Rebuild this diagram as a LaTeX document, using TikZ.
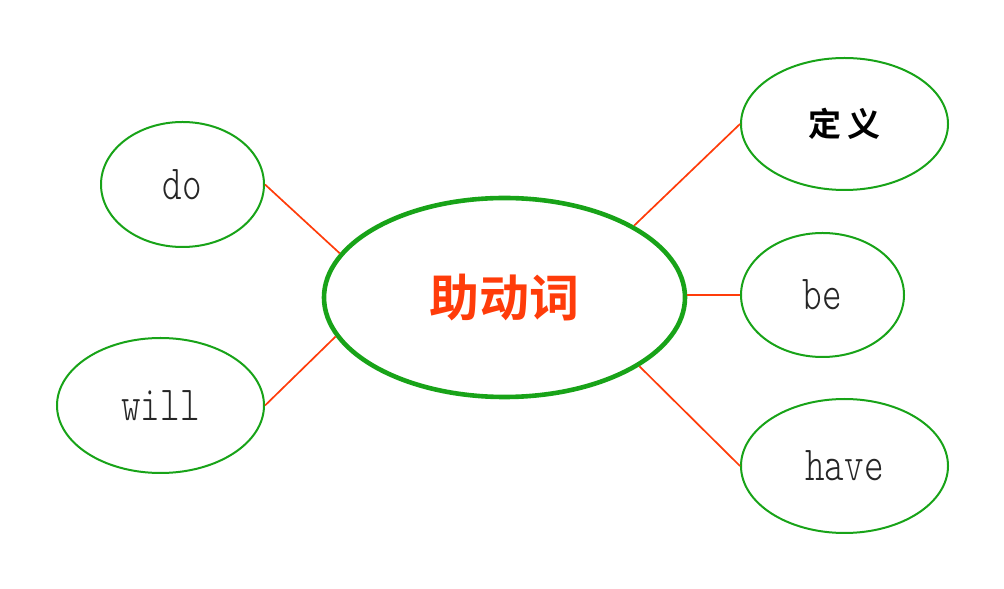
\documentclass[tikz,border=0pt]{standalone}
\usepackage{fontspec}
\usetikzlibrary{shapes.geometric}
\newfontfamily\cjkb{Noto Sans CJK SC Bold}
\newfontfamily\latfont[FakeStretch=0.76]{Latin Modern Mono Light}
\definecolor{egreen}{RGB}{24,163,24}
\definecolor{lred}{RGB}{255,60,10}
\begin{document}
\begin{tikzpicture}[x=1pt,y=1pt,
  leaf/.style={ellipse,draw=egreen,line width=2pt,inner sep=0pt,font=\latfont\fontsize{49}{49}\selectfont,text=black!85},
  hub/.style={ellipse,draw=egreen,line width=4.6pt,inner sep=0pt,font=\cjkb\fontsize{50}{50}\selectfont,text=lred},
  link/.style={draw=lred,line width=1.7pt}]
\useasboundingbox (0,0) rectangle (1004,589);
\node[hub,minimum width=361pt,minimum height=199pt] (main) at (504.5,291.5) {助动词};
\node[leaf,minimum width=207pt,minimum height=132pt,font=\cjkb\fontsize{33}{33}\selectfont,text=black] (def) at (844.5,465) {定\hspace{6pt}义};
\node[leaf,minimum width=163pt,minimum height=124pt] (be) at (822.5,294) {be};
\node[leaf,minimum width=207pt,minimum height=134pt] (have) at (844.5,123) {have};
\node[leaf,minimum width=163pt,minimum height=125pt] (do) at (182.5,404.5) {do};
\node[leaf,minimum width=207pt,minimum height=135pt] (will) at (160.5,183.5) {will};
\draw[link] (do.east) -- (main.165);
\draw[link] (will.east) -- (main.193.5);
\draw[link] (def.west) -- (main.29.2);
\draw[link] (be.west) -- (be.west -| main.east);
\draw[link] (have.west) -- (main.-27.5);
\end{tikzpicture}
\end{document}
